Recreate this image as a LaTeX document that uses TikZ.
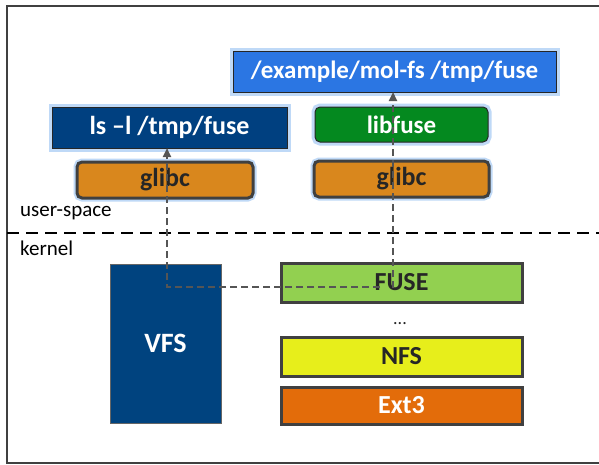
\documentclass[tikz,border=0pt]{standalone}
\usepackage{fontspec}
\setmainfont{Carlito}
\usetikzlibrary{arrows.meta}
\definecolor{molblue}{HTML}{2B76E3}
\definecolor{darkblue}{HTML}{004080}
\definecolor{vfsblue}{HTML}{00437F}
\definecolor{glibcorange}{HTML}{D9871D}
\definecolor{libgreen}{HTML}{04891F}
\definecolor{fusegreen}{HTML}{92D050}
\definecolor{nfsyellow}{HTML}{E7EE1B}
\definecolor{extorange}{HTML}{E36C0A}
\definecolor{edgegray}{HTML}{404040}
\definecolor{conngray}{HTML}{555555}
\definecolor{glowblue}{HTML}{BFD9F7}
\definecolor{txtdark}{HTML}{262626}
\begin{document}
\begin{tikzpicture}[x=1pt,y=-1pt,
  base/.style={rectangle, inner sep=0pt, outer sep=0pt, font=\bfseries\fontsize{25}{27}\selectfont},
  glow/.style={preaction={draw=glowblue, line width=7pt}},
  bluebox/.style={base, glow, draw=black!85, line width=1pt, text=white},
  pill/.style={base, glow, rounded corners=5pt},
  fsbox/.style={base, draw=edgegray, line width=3pt, text=txtdark, font=\bfseries\fontsize{26}{28}\selectfont},
  conn/.style={draw=conngray, line width=2.2pt, dash pattern=on 7pt off 4pt},
  lbl/.style={anchor=west, inner sep=0pt, font=\fontsize{21}{23}\selectfont, text=black}
]
\useasboundingbox (0,0) rectangle (599,464);
\fill[white] (0,0) rectangle (599,464);
\draw[black!75, line width=1.3pt] (599,6) -- (7,6) -- (7,463) -- (599,463);

\node[bluebox, fill=molblue, minimum width=323pt, minimum height=41pt] (mol) at (394.5,71.5) {/example/mol-fs /tmp/fuse};
\node[bluebox, fill=darkblue, minimum width=235pt, minimum height=41pt, font=\bfseries\fontsize{26}{28}\selectfont] (ls) at (169.5,127.5) {ls –l /tmp/fuse};
\node[pill, fill=glibcorange, draw=edgegray, line width=3pt, text=txtdark, minimum width=176pt, minimum height=36pt, font=\bfseries\fontsize{26}{28}\selectfont] (glibcL) at (165,180) {glibc};
\node[pill, fill=libgreen, draw=black!85, line width=1pt, text=white, minimum width=173pt, minimum height=35pt] (libfuse) at (401.5,124.5) {libfuse};
\node[pill, fill=glibcorange, draw=edgegray, line width=3pt, text=txtdark, minimum width=175pt, minimum height=36pt, font=\bfseries\fontsize{26}{28}\selectfont] (glibcR) at (401.5,179) {glibc};

\node[lbl] (us) at (20,213) {user-space};
\node[lbl] (kn) at (20,248) {kernel};
\coordinate (sepL) at (7,233);
\coordinate (sepR) at (599,233);
\draw[black, line width=2.5pt, dash pattern=on 12pt off 7pt] (sepL) -- (sepR);

\node[base, fill=vfsblue, draw=black!60, line width=1pt, text=white, minimum width=111pt, minimum height=159pt, font=\bfseries\fontsize{28}{30}\selectfont] (vfs) at (165.5,343.5) {VFS};
\node[fsbox, fill=fusegreen, minimum width=241pt, minimum height=39pt] (fuse) at (401.5,282.5) {FUSE};
\node[inner sep=0pt, text=txtdark, font=\fontsize{18}{20}\selectfont] (dots) at (400,324) {...};
\node[fsbox, fill=nfsyellow, minimum width=241pt, minimum height=39pt] (nfs) at (401.5,356.5) {NFS};
\node[fsbox, fill=extorange, text=white, minimum width=241pt, minimum height=37pt] (ext) at (401.5,405.5) {Ext3};

\coordinate (j1) at (393,288);
\coordinate (j2) at (380,287);
\coordinate (j3) at (167,287);
\draw[conn, -{Triangle[length=9pt,width=8pt]}] (j1) -- (j1 |- mol.south);
\draw[conn, -{Triangle[length=9pt,width=8pt]}] (j2) -- (j3) -- (j3 |- ls.south);
\end{tikzpicture}
\end{document}
